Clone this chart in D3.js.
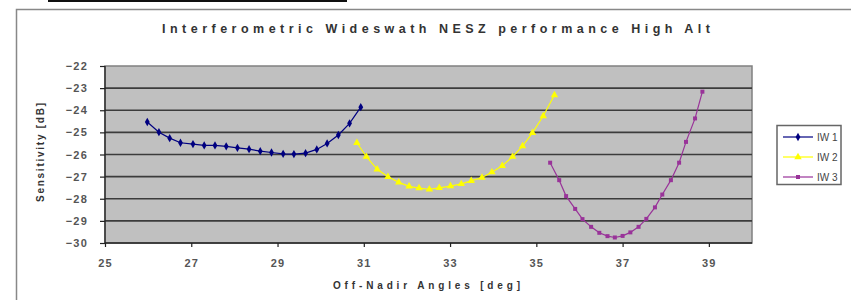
<!DOCTYPE html>
<html>
<head>
<meta charset="utf-8">
<script src="https://cdn.jsdelivr.net/npm/d3@7"></script>
<style>
  body { margin: 0; background: #fff; }
  text { font-family: "Liberation Sans", Arial, sans-serif; }
</style>
</head>
<body>
<svg width="851" height="300"></svg>
<script>
var svg = d3.select("svg");

// values
var iw1Angle = [25.98, 26.25, 26.50, 26.75, 27.04, 27.30, 27.55, 27.81, 28.07, 28.34,
                28.60, 28.86, 29.13, 29.38, 29.65, 29.91, 30.15, 30.41, 30.67, 30.93];
var iw1Sens  = [-24.53, -24.99, -25.26, -25.47, -25.53, -25.59, -25.59, -25.63, -25.70, -25.76,
                -25.85, -25.91, -25.97, -25.98, -25.94, -25.77, -25.50, -25.12, -24.59, -23.86];

var iw2Angle = [30.84, 31.06, 31.31, 31.56, 31.81, 32.05, 32.28, 32.52, 32.75, 33.01,
                33.26, 33.49, 33.74, 33.97, 34.21, 34.45, 34.68, 34.91, 35.16, 35.42];
var iw2Sens  = [-25.47, -26.10, -26.67, -27.01, -27.26, -27.44, -27.52, -27.57, -27.51, -27.43,
                -27.33, -27.19, -27.04, -26.80, -26.51, -26.10, -25.62, -25.02, -24.26, -23.31];

var iw3Angle = [35.32, 35.53, 35.69, 35.90, 36.07, 36.27, 36.46, 36.65, 36.82, 37.00,
                37.18, 37.37, 37.55, 37.75, 37.92, 38.12, 38.31, 38.47, 38.68, 38.85];
var iw3Sens  = [-26.37, -27.16, -27.88, -28.46, -28.92, -29.27, -29.54, -29.69, -29.75, -29.68,
                -29.52, -29.27, -28.91, -28.39, -27.81, -27.16, -26.37, -25.43, -24.37, -23.16];

var seriesNames = ["IW 1", "IW 2", "IW 3"];
var xTicks = [25, 27, 29, 31, 33, 35, 37, 39];
var yTicks = [-22, -23, -24, -25, -26, -27, -28, -29, -30];

var colors = ["#000080", "#ffff00", "#993399"];
var shapes = [d3.symbolDiamond, d3.symbolTriangle, d3.symbolSquare];
var sizes = [20, 24, 16];

var series = [
  {name: seriesNames[0], x: iw1Angle, y: iw1Sens},
  {name: seriesNames[1], x: iw2Angle, y: iw2Sens},
  {name: seriesNames[2], x: iw3Angle, y: iw3Sens}
];

var plotL = 105, plotR = 752, plotT = 66, plotB = 243;

var x = d3.scaleLinear().domain([25, 40]).range([plotL, plotR]);
var y = d3.scaleLinear().domain([-30, -22]).range([plotB, plotT]);

// bits of frame
svg.append("rect").attr("x", 48).attr("y", 0).attr("width", 299).attr("height", 2).attr("fill", "#111");
svg.append("path").attr("d", "M16.5,300 V9.5 H851")
  .attr("fill", "none").attr("stroke", "#888").attr("stroke-width", 1.5);

// title
svg.append("text").attr("x", 162).attr("y", 33)
  .attr("textLength", 548).attr("lengthAdjust", "spacing")
  .attr("font-size", 12.5).attr("font-weight", "bold").attr("fill", "#333")
  .text("Interferometric Wideswath NESZ performance High Alt");

// plot area
svg.append("rect").attr("x", plotL).attr("y", plotT)
  .attr("width", plotR - plotL).attr("height", plotB - plotT)
  .attr("fill", "#c0c0c0").attr("stroke", "#808080").attr("stroke-width", 1.5);

svg.append("g").selectAll("line").data(yTicks.slice(1, -1)).join("line")
  .attr("x1", plotL).attr("x2", plotR)
  .attr("y1", d => y(d)).attr("y2", d => y(d))
  .attr("stroke", "#3c3c3c").attr("stroke-width", 1.6);

// axes
var yAxis = d3.axisLeft(y).tickValues(yTicks).tickSize(5).tickPadding(12);
var gy = svg.append("g").attr("transform", "translate(" + plotL + ",0)").call(yAxis);
var xAxis = d3.axisBottom(x).tickValues(xTicks).tickSize(4).tickPadding(12);
var gx = svg.append("g").attr("transform", "translate(0," + plotB + ")").call(xAxis);

[gx, gy].forEach(function(g) {
  g.select(".domain").attr("stroke", "#222").attr("stroke-width", 1.3);
  g.selectAll(".tick line").attr("stroke", "#222").attr("stroke-width", 1.2);
  g.selectAll(".tick text").attr("font-size", 11).attr("fill", "#555")
    .attr("font-weight", "bold").attr("letter-spacing", 1.2)
    .attr("font-family", "'Liberation Sans', Arial, sans-serif");
});
gx.select(".domain").attr("d", "M" + plotL + ",0H" + plotR);
gy.select(".domain").attr("d", "M0," + plotB + "V" + plotT);

// axis titles
svg.append("text").attr("x", 333).attr("y", 289)
  .attr("textLength", 187).attr("lengthAdjust", "spacing")
  .attr("font-size", 10).attr("font-weight", "bold").attr("fill", "#333")
  .text("Off-Nadir Angles [deg]");

svg.append("text").attr("transform", "translate(44,202) rotate(-90)")
  .attr("textLength", 99).attr("lengthAdjust", "spacing")
  .attr("font-size", 10).attr("font-weight", "bold").attr("fill", "#333")
  .text("Sensitivity [dB]");

// series
var line = d3.line().x(d => x(d[0])).y(d => y(d[1]));

series.forEach(function(s, i) {
  var pts = s.x.map((v, k) => [v, s.y[k]]);
  svg.append("path").datum(pts).attr("d", line)
    .attr("fill", "none").attr("stroke", colors[i]).attr("stroke-width", 1.2);
  svg.append("g").selectAll("path").data(pts).join("path")
    .attr("transform", d => "translate(" + x(d[0]) + "," + y(d[1]) + ")")
    .attr("d", d3.symbol().type(shapes[i]).size(sizes[i]))
    .attr("fill", colors[i]);
});

// legend
var lg = svg.append("g");
lg.append("rect").attr("x", 777).attr("y", 125.5).attr("width", 64).attr("height", 59)
  .attr("fill", "#fff").attr("stroke", "#666").attr("stroke-width", 1.5);
var item = lg.selectAll("g.item").data(series).join("g")
  .attr("transform", (d, i) => "translate(0," + (137 + i * 20) + ")");
item.append("line").attr("x1", 783).attr("x2", 813)
  .attr("stroke", (d, i) => colors[i]).attr("stroke-width", 1.2);
item.append("path").attr("transform", "translate(798,0)")
  .attr("d", (d, i) => d3.symbol().type(shapes[i]).size(sizes[i])())
  .attr("fill", (d, i) => colors[i]);
item.append("text").attr("x", 817).attr("y", 4)
  .attr("font-size", 10).attr("fill", "#444")
  .text(d => d.name);
</script>
</body>
</html>
